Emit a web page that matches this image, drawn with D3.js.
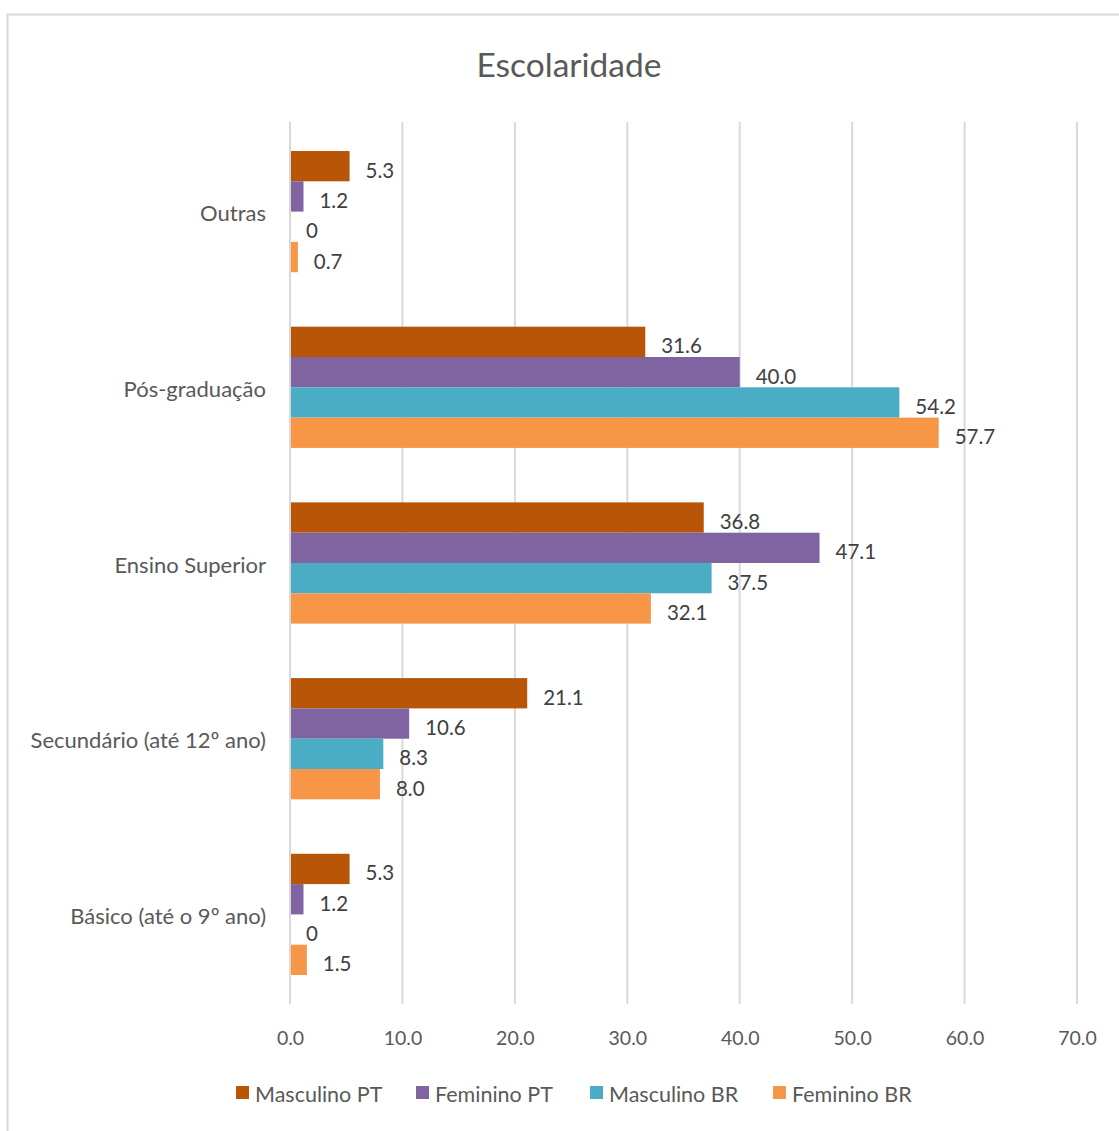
<!DOCTYPE html>
<html>
<head>
<meta charset="utf-8">
<script src="https://cdn.jsdelivr.net/npm/d3@7"></script>
<style>
  html, body { margin: 0; padding: 0; background: #fff; }
  svg { display: block; font-family: "Lato", "Open Sans", sans-serif; }
</style>
</head>
<body>
<svg id="chart" width="1119" height="1131"></svg>
<script>
// Education level by sex and country (%)
const categories = ["Outras", "Pós-graduação", "Ensino Superior", "Secundário (até 12º ano)", "Básico (até o 9º ano)"];
const seriesNames = ["Masculino PT", "Feminino PT", "Masculino BR", "Feminino BR"];
const masculinoPT = [5.3, 31.6, 36.8, 21.1, 5.3];
const femininoPT  = [1.2, 40.0, 47.1, 10.6, 1.2];
const masculinoBR = [0, 54.2, 37.5, 8.3, 0];
const femininoBR  = [0.7, 57.7, 32.1, 8.0, 1.5];
const xTicks = [0, 10, 20, 30, 40, 50, 60, 70];
const seriesColors = ["#B85507", "#8064A2", "#4BACC6", "#F79646"];

const seriesValues = [masculinoPT, femininoPT, masculinoBR, femininoBR];

const svg = d3.select("#chart");

// outer chart frame
svg.append("rect")
  .attr("x", 7.5).attr("y", 14.5)
  .attr("width", 1120).attr("height", 1130)
  .attr("fill", "#fff").attr("stroke", "#d9d9d9").attr("stroke-width", 2);

const plot = { left: 290, right: 1077, top: 122, bottom: 1004 };

const x = d3.scaleLinear().domain([0, 70]).range([plot.left, plot.right]);
const y = d3.scaleBand().domain(categories).range([plot.top, plot.bottom])
  .paddingInner(0.31).paddingOuter(0.165);
const ySub = d3.scaleBand().domain(seriesNames).range([0, y.bandwidth()]);

// title
svg.append("text")
  .attr("x", 569).attr("y", 64)
  .attr("text-anchor", "middle")
  .attr("dominant-baseline", "central")
  .attr("font-size", 33.5).attr("fill", "#595959")
  .text("Escolaridade");

// vertical gridlines
svg.append("g").selectAll("line").data(xTicks).join("line")
  .attr("x1", d => x(d)).attr("x2", d => x(d))
  .attr("y1", plot.top).attr("y2", plot.bottom)
  .attr("stroke", "#d9d9d9").attr("stroke-width", 2);

// x axis tick labels
const xAxis = d3.axisBottom(x).tickValues(xTicks).tickSize(0).tickPadding(0)
  .tickFormat(d => d.toFixed(1));
const gx = svg.append("g").attr("transform", `translate(0,${plot.bottom + 33})`).call(xAxis);
gx.select(".domain").remove();
gx.selectAll("text").attr("font-size", 19.5).attr("fill", "#595959")
  .attr("font-family", "Lato, 'Open Sans', sans-serif")
  .attr("dy", "0").attr("dominant-baseline", "central");

// y axis category labels
const yAxis = d3.axisLeft(y).tickSize(0).tickPadding(24);
const gy = svg.append("g").attr("transform", `translate(${plot.left},0)`).call(yAxis);
gy.select(".domain").remove();
gy.selectAll("text").attr("font-size", 22).attr("fill", "#595959")
  .attr("font-family", "Lato, 'Open Sans', sans-serif")
  .attr("dy", "0").attr("y", 1).attr("dominant-baseline", "central");

// bars and value labels
const rows = [];
categories.forEach((c, i) => {
  seriesNames.forEach((s, j) => {
    rows.push({ cat: c, series: s, value: seriesValues[j][i], color: seriesColors[j] });
  });
});

const groups = svg.append("g");
groups.selectAll("rect").data(rows.filter(d => d.value > 0)).join("rect")
  .attr("x", x(0) + 1)
  .attr("y", d => y(d.cat) + ySub(d.series))
  .attr("width", d => x(d.value) - x(0) - 1)
  .attr("height", ySub.bandwidth())
  .attr("fill", d => d.color);

groups.selectAll("text").data(rows).join("text")
  .attr("x", d => x(d.value) + 16)
  .attr("y", d => y(d.cat) + ySub(d.series) + ySub.bandwidth() / 2 + 3.5)
  .attr("dominant-baseline", "central")
  .attr("font-size", 20.5).attr("fill", "#404040")
  .text(d => d.value === 0 ? "0" : d.value.toFixed(1));

// legend
const legendX = [236, 416, 590, 773];
const legend = svg.append("g").selectAll("g").data(seriesNames).join("g")
  .attr("transform", (d, i) => `translate(${legendX[i]},1093)`);
legend.append("rect")
  .attr("x", 0).attr("y", -7).attr("width", 13).attr("height", 13)
  .attr("fill", (d, i) => seriesColors[i]);
legend.append("text")
  .attr("x", 19).attr("y", 1)
  .attr("dominant-baseline", "central")
  .attr("font-size", 21.5).attr("fill", "#595959")
  .text(d => d);
</script>
</body>
</html>
